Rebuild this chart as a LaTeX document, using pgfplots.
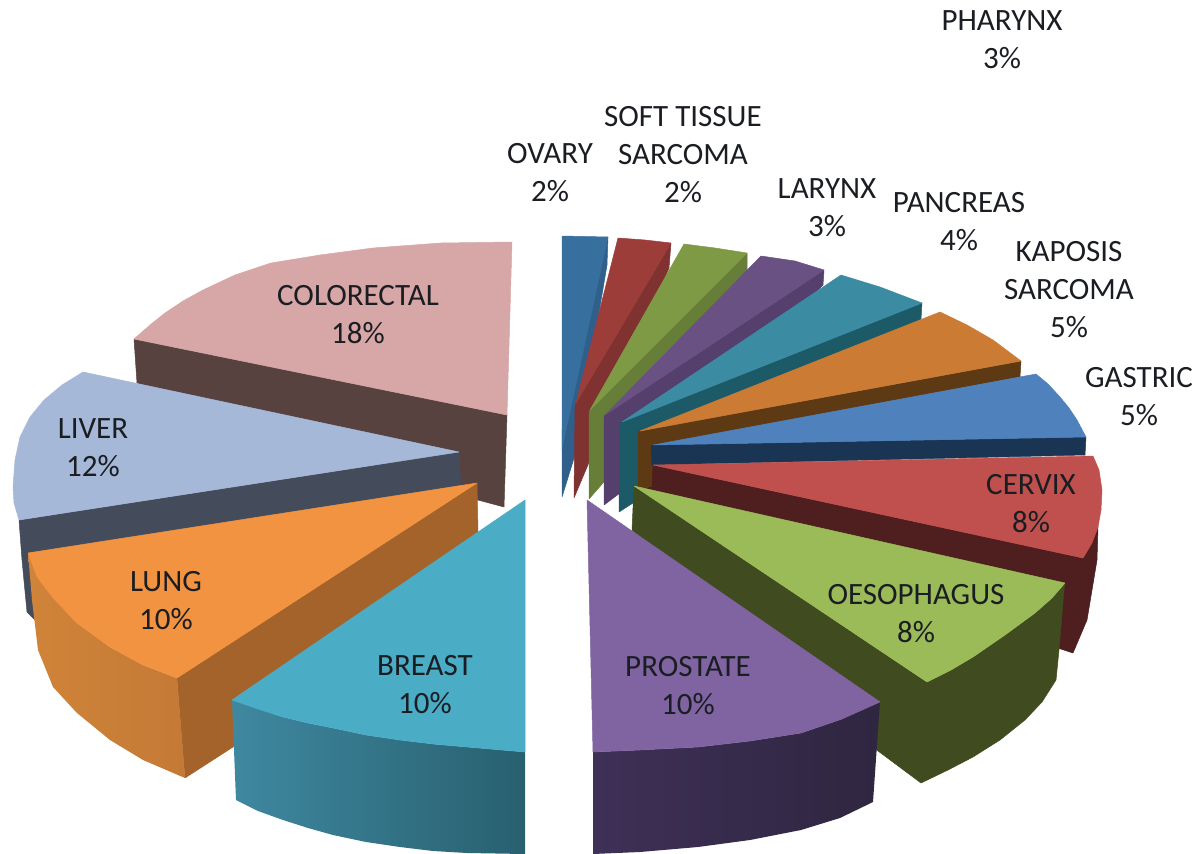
\documentclass[border=0pt]{standalone}
\usepackage{pgfplots}
\pgfplotsset{compat=1.18}
\usepackage{fontspec}
\setmainfont{Carlito}
\definecolor{txt}{HTML}{1A1D22}
\definecolor{a1}{HTML}{57423F}\definecolor{a2}{HTML}{D7A6A6}
\definecolor{b1}{HTML}{444C5C}\definecolor{b2}{HTML}{A6B8D8}
\definecolor{c1}{HTML}{A4632B}\definecolor{c2}{HTML}{D08439}\definecolor{c3}{HTML}{C47A36}\definecolor{c4}{HTML}{F29341}
\definecolor{d1}{HTML}{2F5F8A}\definecolor{d2}{HTML}{376F9F}
\definecolor{e1}{HTML}{7F3230}\definecolor{e2}{HTML}{9C3D3A}
\definecolor{f1}{HTML}{677E38}\definecolor{f2}{HTML}{7F9A45}
\definecolor{g1}{HTML}{553F6D}\definecolor{g2}{HTML}{6A5184}
\definecolor{h1}{HTML}{1D5A68}\definecolor{h2}{HTML}{3B8CA3}
\definecolor{i1}{HTML}{5E3A14}\definecolor{i2}{HTML}{CB7B34}
\definecolor{j1}{HTML}{1A3553}\definecolor{j2}{HTML}{4F81BD}
\definecolor{k1}{HTML}{4F1E1E}\definecolor{k2}{HTML}{C0504D}
\definecolor{l1}{HTML}{404B1F}\definecolor{l2}{HTML}{9BBB59}
\definecolor{m1}{HTML}{3E3057}\definecolor{m2}{HTML}{2F2640}\definecolor{m3}{HTML}{8064A2}
\definecolor{n1}{HTML}{3F88A0}\definecolor{n2}{HTML}{28606F}\definecolor{n3}{HTML}{4BACC6}
\newcommand{\slc}[2]{\addplot[draw=#1,line width=0.5pt,line join=round,fill=#1] coordinates {#2} --cycle;}
\newcommand{\shd}[3]{\addplot[draw=none,left color=#1,right color=#2] coordinates {#3} --cycle;}
\newcommand{\lab}[3]{\node[text=txt,font=\fontsize{31}{38}\selectfont,align=center,inner sep=0pt] at (axis cs:#1,#2) {#3};}
\begin{document}
\begin{tikzpicture}
\path[use as bounding box] (0,0) rectangle (1203pt,854pt);
\begin{axis}[at={(0,0)},anchor=south west,scale only axis,width=1203pt,height=854pt,xmin=0,xmax=1203,ymin=0,ymax=854,y dir=reverse,axis lines=none,clip=true]
% COLORECTAL
\slc{a1}{(134,339)(507,415)(504,507)(478,500)(137,383)}
\slc{a2}{(512,242)(507,415)(134,339)(150,325)(165,313)(183,301)(203,290)(235,275)(271,263)(320,255)(373,248)(441,243)}
% LIVER
\slc{b1}{(19,520)(459,452)(461,490)(35,620)(27,612)(22,560)}
\slc{b2}{(83,372)(459,452)(19,520)(14,503)(13,487)(15,460)(20,437)(30,417)(44,400)(62,385)}
% LUNG
\slc{c1}{(177,678)(477,483)(478,532)(233,747)(185,778)}
\shd{c2}{c3}{(28,553)(37,577)(53,598)(77,623)(110,647)(143,665)(177,678)(185,778)(143,760)(110,740)(77,713)(53,687)(38,650)(32,600)}
\slc{c4}{(477,483)(177,678)(143,665)(110,647)(77,623)(53,598)(37,577)(28,553)}
% OVARY ... GASTRIC (back to front)
\slc{d1}{(608,237)(607,265)(575,455)(562,497)(562,430)}
\slc{d2}{(562,236)(608,237)(566,430)(562,450)}
\slc{e1}{(671,243)(669,268)(590,460)(574,498)(575,407)(576,403)}
\slc{e2}{(618,238)(645,240)(671,243)(576,403)}
\slc{f1}{(747,253)(747,270)(603,483)(589,499)(589,412)(590,410)}
\slc{f2}{(684,244)(715,248)(747,253)(590,410)}
\slc{g1}{(824,270)(823,285)(620,493)(604,505)(604,417)(605,415)}
\slc{g2}{(761,256)(795,261)(824,270)(605,415)}
\slc{h1}{(922,303)(921,319)(633,503)(619,512)(620,423)(622,422)}
\slc{h2}{(841,275)(880,287)(922,303)(622,422)}
\slc{i1}{(1021,361)(1020,377)(655,445)(652,492)(638,487)(638,432)(640,431)}
\slc{i2}{(940,312)(967,325)(993,340)(1021,361)(640,431)}
\slc{j1}{(1086,437)(1085,455)(652,465)(651,446)(653,445)}
\slc{j2}{(1036,374)(1048,384)(1060,397)(1069,408)(1077,420)(1086,437)(653,445)}
% CERVIX
\slc{k1}{(653,465)(1083,558)(1098,527)(1097,560)(1087,620)(1073,653)(1058,648)(1058,600)(640,490)(652,487)}
\slc{k2}{(653,465)(1093,456)(1099,470)(1102,490)(1101,510)(1098,527)(1092,543)(1083,558)}
% OESOPHAGUS
\slc{l1}{(634,486)(927,682)(951,670)(973,657)(1005,635)(1035,613)(1052,598)(1065,583)(1064,590)(1059,650)(1056,680)(1042,702)(1025,720)(1000,740)(973,757)(948,770)(921,783)(870,745)(632,530)}
\slc{l2}{(634,486)(927,682)(951,670)(973,657)(1005,635)(1035,613)(1052,598)(1065,583)}
% PROSTATE
\shd{m1}{m2}{(593,752)(640,750)(698,747)(750,741)(801,733)(842,719)(880,702)(873,802)(840,818)(801,830)(750,840)(698,847)(640,852)(593,854)}
\slc{m3}{(587,500)(880,702)(842,719)(801,733)(750,741)(698,747)(640,750)(593,752)}
% BREAST
\shd{n1}{n2}{(232,700)(258,709)(283,717)(308,723)(333,728)(366,735)(400,740)(433,744)(467,747)(525,752)(525,854)(467,853)(433,851)(400,847)(366,842)(333,835)(308,828)(283,820)(258,811)(236,800)}
\slc{n3}{(525,500)(525,752)(467,747)(433,744)(400,740)(366,735)(333,728)(308,723)(283,717)(258,709)(232,700)}
% labels
\lab{1002}{40}{PHARYNX\\3\%}
\lab{683}{155}{SOFT TISSUE\\SARCOMA\\2\%}
\lab{550}{173}{OVARY\\2\%}
\lab{827}{208}{LARYNX\\3\%}
\lab{959}{222}{PANCREAS\\4\%}
\lab{1069}{290}{KAPOSIS\\SARCOMA\\5\%}
\lab{1139}{397}{GASTRIC\\5\%}
\lab{1031}{504}{CERVIX\\8\%}
\lab{916}{614}{OESOPHAGUS\\8\%}
\lab{688}{686}{PROSTATE\\10\%}
\lab{425}{685}{BREAST\\10\%}
\lab{166}{601}{LUNG\\10\%}
\lab{93}{448}{LIVER\\12\%}
\lab{358}{315}{COLORECTAL\\18\%}
\end{axis}
\end{tikzpicture}
\end{document}
